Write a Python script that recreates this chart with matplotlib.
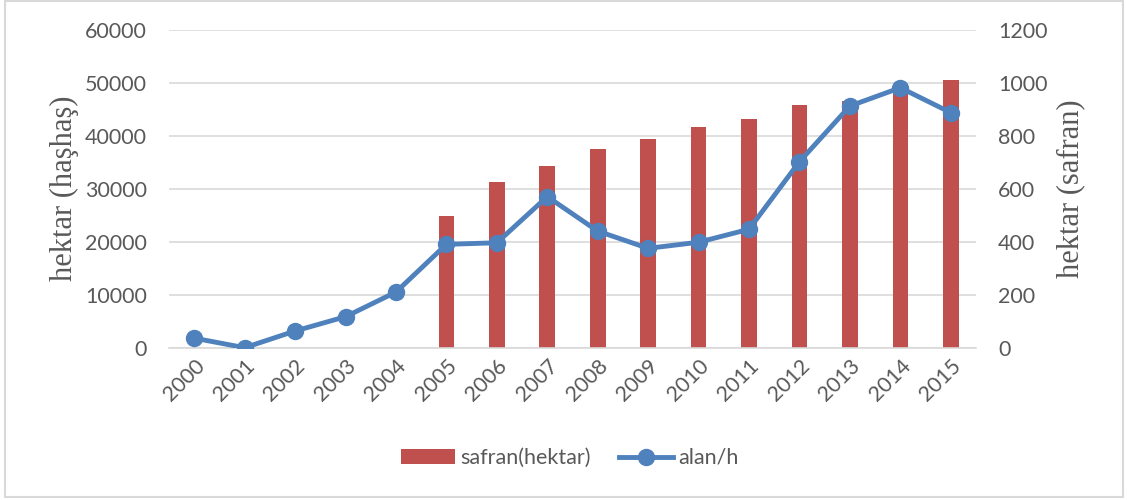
import matplotlib
matplotlib.use("Agg")
import matplotlib.pyplot as plt
from matplotlib.patches import Rectangle
from matplotlib.lines import Line2D
from matplotlib.patches import Patch
import numpy as np

years = ["2000", "2001", "2002", "2003", "2004", "2005", "2006", "2007",
         "2008", "2009", "2010", "2011", "2012", "2013", "2014", "2015"]
safran_hektar = [0, 0, 0, 0, 0, 24900, 31200, 34300, 37400, 39400,
                 41700, 43200, 45700, 46600, 49700, 50600]
alan_h = [36, 0, 63, 117, 210, 390, 396, 570, 440, 375,
          398, 447, 702, 912, 981, 887]
left_ticks = [0, 10000, 20000, 30000, 40000, 50000, 60000]
right_ticks = [0, 200, 400, 600, 800, 1000, 1200]

BAR_C = "#c0504d"
LINE_C = "#4f81bd"
TXT_C = "#595959"
GRID_C = "#d9d9d9"
TICK_FONT = "Lato"
SERIF = "Liberation Serif"
FS = 15.5

fig = plt.figure(figsize=(11.27, 5.0), dpi=100)
ax = fig.add_axes([169/1127, 1 - 347.7/500, (976-169)/1127, (347.7-29.7)/500])
ax2 = ax.twinx()

x = np.arange(len(years))
ax.bar(x, safran_hektar, width=0.31, color=BAR_C, zorder=2)
ax2.plot(x, alan_h, color=LINE_C, lw=3.5, marker="o", markersize=11.5,
         solid_capstyle="round", zorder=3)

ax.set_xlim(-0.5, len(years) - 0.5)
ax.set_ylim(0, 60000)
ax2.set_ylim(0, 1200)
ax.set_yticks(left_ticks)
ax2.set_yticks(right_ticks)
ax.yaxis.grid(True, color=GRID_C, lw=1.2, zorder=0)
ax.set_axisbelow(True)

for a in (ax, ax2):
    for s in a.spines.values():
        s.set_visible(False)
ax.spines["bottom"].set_visible(True)
ax.spines["bottom"].set_color(GRID_C)
ax.spines["bottom"].set_linewidth(1.2)

ax.set_xticks(x)
ax.set_xticklabels(years, rotation=45, ha="right", rotation_mode="anchor",
                   fontsize=FS, color=TXT_C, family=TICK_FONT)
ax.tick_params(axis="x", length=0, pad=6)
ax.tick_params(axis="y", length=0, pad=16, labelsize=FS, labelcolor=TXT_C)
ax2.tick_params(axis="y", length=0, pad=16, labelsize=FS, labelcolor=TXT_C)
for lab in ax.get_yticklabels() + ax2.get_yticklabels():
    lab.set_family(TICK_FONT)

ax.set_ylabel("hektar (haşhaş)", family=SERIF, fontsize=22, color=TXT_C, labelpad=4)
ax2.set_ylabel("hektar (safran)", family=SERIF, fontsize=22, color=TXT_C, labelpad=6)

handles = [Patch(facecolor=BAR_C, edgecolor="none"),
           Line2D([0], [0], color=LINE_C, lw=3.5, marker="o", markersize=11.5)]
fig.legend(handles, ["safran(hektar)", "alan/h"], loc="center",
           bbox_to_anchor=(570/1127, 1 - 458/500), ncol=2, frameon=False,
           prop={"family": TICK_FONT, "size": FS}, labelcolor=TXT_C,
           handlelength=2.5, handleheight=0.65, columnspacing=1.3, handletextpad=0.25)

fig.patches.append(Rectangle((5/1127, 3/500), 1118/1127, 496/500,
                             transform=fig.transFigure, fill=False,
                             edgecolor=GRID_C, lw=1.5))

fig.savefig("out.png", dpi=100)
